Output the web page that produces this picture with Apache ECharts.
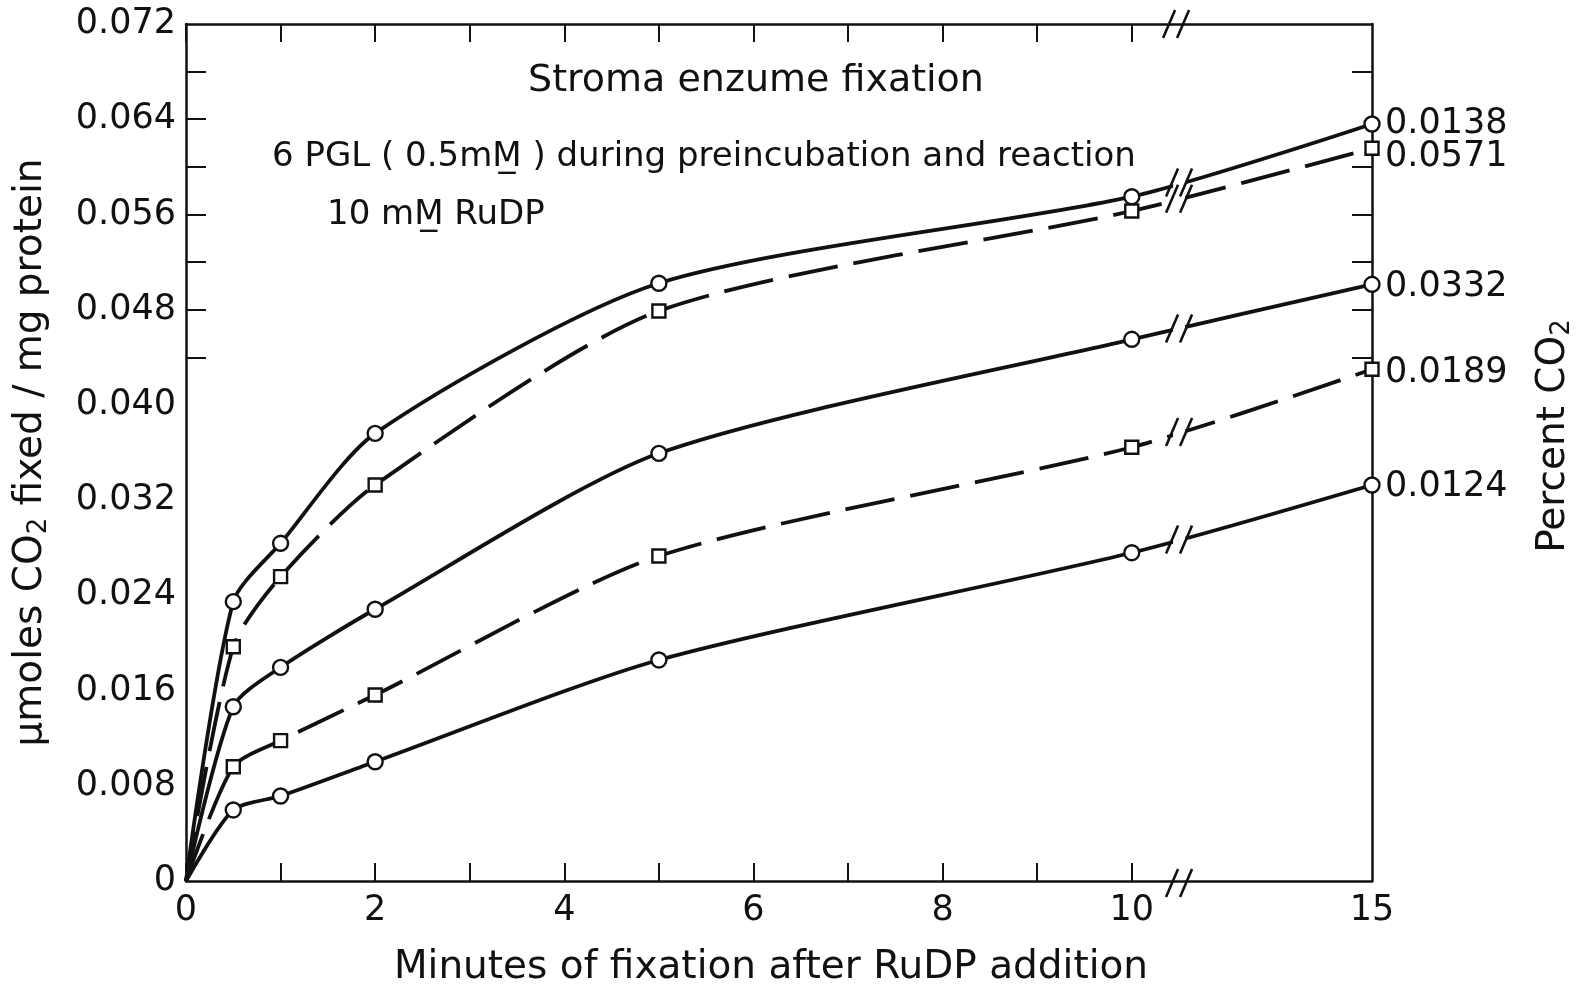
<!DOCTYPE html>
<html>
<head>
<meta charset="utf-8">
<title>Stroma enzume fixation</title>
<script src="https://cdn.jsdelivr.net/npm/echarts@6.0.0/dist/echarts.min.js"></script>
<style>
  html, body { margin: 0; padding: 0; background: #fff; }
  #chart { width: 1591px; height: 992px; }
</style>
</head>
<body>
<div id="chart"></div>
<script>
// minutes of fixation after RuDP addition
const minutes = [0, 0.5, 1, 2, 5, 10, 15]

// percent CO2 of each curve, and its marker
const co2Labels = ['0.0138', '0.0571', '0.0332', '0.0189', '0.0124']
const co2Symbols = ['circle', 'rect', 'circle', 'rect', 'circle']

// umoles CO2 fixed / mg protein
const fixed0138 = [0, 0.02347, 0.02837, 0.03761, 0.05022, 0.05749, 0.06360]
const fixed0571 = [0, 0.01968, 0.02557, 0.03327, 0.04789, 0.05629, 0.06156]
const fixed0332 = [0, 0.01464, 0.01795, 0.02283, 0.03593, 0.04551, 0.05013]
const fixed0189 = [0, 0.00960, 0.01179, 0.01563, 0.02730, 0.03644, 0.04299]
const fixed0124 = [0, 0.00597, 0.00714, 0.01002, 0.01857, 0.02758, 0.03327]

// tick labels
const xLabelValues = [0, 2, 4, 6, 8, 10, 15]
const xTickValues = [0, 1, 2, 3, 4, 5, 6, 7, 8, 9, 10]
const yLabelValues = [0, 0.008, 0.016, 0.024, 0.032, 0.040, 0.048, 0.056, 0.064, 0.072]
const yTickLeft = [0.044, 0.048, 0.052, 0.056, 0.060, 0.064, 0.068]
const yTickRight = [0.044, 0.048, 0.052, 0.056, 0.060, 0.068]

const INK = '#111'
const FONT = '"DejaVu Sans", sans-serif'

// the axis is broken after 10 min: 10 -> 15 is drawn shorter
const BREAK_AT = 10
const BREAK_SCALE = 0.508
const BREAK_MARK = 10.5
const pos = (m) => (m <= BREAK_AT ? m : BREAK_AT + (m - BREAK_AT) * BREAK_SCALE)
const X_MAX = pos(15)

const fixedSeries = [fixed0138, fixed0571, fixed0332, fixed0189, fixed0124]
const dashed = [false, true, false, true, false]
const endLabelDy = [0, 9, 3, 4, 2]

// text with a lowered, smaller "2"
const subRich = {
  t: { fontSize: 39, fontFamily: FONT, color: INK },
  s: { fontSize: 26, fontFamily: FONT, color: INK, padding: [16, 0, 0, 0] },
}

const chart = echarts.init(document.getElementById('chart'))

const baseX = {
  type: 'value',
  min: 0,
  max: X_MAX,
  splitLine: { show: false },
  axisLine: { show: true, onZero: false, lineStyle: { color: INK, width: 2.5 } },
  axisTick: {
    show: true,
    inside: true,
    length: 18,
    customValues: xTickValues.map(pos),
    lineStyle: { color: INK, width: 2 },
  },
}

const baseY = {
  type: 'value',
  min: 0,
  max: 0.072,
  splitLine: { show: false },
  axisLine: { show: true, onZero: false, lineStyle: { color: INK, width: 2.5 } },
}

const option = {
  backgroundColor: '#fff',
  animation: false,
  grid: { left: 186, right: 219, top: 24, bottom: 111, containLabel: false, outerBoundsMode: 'none' },
  xAxis: [
    {
      ...baseX,
      position: 'bottom',
      name: 'Minutes of fixation after RuDP addition',
      nameLocation: 'middle',
      nameGap: 67,
      nameTextStyle: { fontSize: 39, fontFamily: FONT, color: INK, padding: [0, 16, 0, 0] },
      axisLabel: {
        show: true,
        margin: 12,
        fontSize: 35,
        fontFamily: FONT,
        color: INK,
        showMinLabel: true,
        showMaxLabel: true,
        customValues: xLabelValues.map(pos),
        formatter: (v) => {
          const i = xLabelValues.findIndex((m) => Math.abs(pos(m) - v) < 1e-6)
          return i >= 0 ? String(xLabelValues[i]) : ''
        },
      },
    },
    {
      ...baseX,
      position: 'top',
      axisLabel: { show: false },
    },
  ],
  yAxis: [
    {
      ...baseY,
      position: 'left',
      name: '{t|μmoles CO}{s|2}{t| fixed / mg protein}',
      nameLocation: 'middle',
      nameGap: 134,
      nameTextStyle: { fontSize: 39, fontFamily: FONT, color: INK, rich: subRich },
      axisTick: {
        show: true,
        inside: true,
        length: 20,
        customValues: yTickLeft,
        lineStyle: { color: INK, width: 2 },
      },
      axisLabel: {
        show: true,
        margin: 10,
        fontSize: 35,
        fontFamily: FONT,
        color: INK,
        showMinLabel: true,
        showMaxLabel: true,
        customValues: yLabelValues,
        formatter: (v) => (v === 0 ? '0' : v.toFixed(3)),
      },
    },
    {
      ...baseY,
      position: 'right',
      axisTick: {
        show: true,
        inside: true,
        length: 20,
        customValues: yTickRight,
        lineStyle: { color: INK, width: 2 },
      },
      axisLabel: { show: false },
    },
  ],
  series: fixedSeries.map((vals, k) => ({
    name: co2Labels[k],
    type: 'line',
    xAxisIndex: 0,
    yAxisIndex: 0,
    smooth: 0.25,
    symbol: co2Symbols[k],
    symbolSize: co2Symbols[k] === 'rect' ? 13 : 15,
    showAllSymbol: true,
    data: minutes.map((m, i) =>
      i === 0 ? { value: [pos(m), vals[i]], symbol: 'none' } : [pos(m), vals[i]]
    ),
    lineStyle: { color: INK, width: 3.8, type: dashed[k] ? [50, 16] : 'solid', cap: 'butt' },
    itemStyle: { color: '#fff', borderColor: INK, borderWidth: 2.4 },
    endLabel: {
      show: true,
      formatter: '{a}',
      distance: 13,
      offset: [0, endLabelDy[k]],
      fontSize: 35,
      fontFamily: FONT,
      color: INK,
    },
    emphasis: { disabled: true },
    z: 3,
  })),
}

chart.setOption(option)

// "//" break marks on the two horizontal axes and on every curve
function breakMark(px, py, cut) {
  const els = []
  if (cut) {
    els.push({
      type: 'rect',
      shape: { x: px - 6, y: py - 10, width: 12, height: 20 },
      style: { fill: '#fff' },
      z: 100,
    })
  }
  ;[-7, 7].forEach((dx) => {
    els.push({
      type: 'line',
      shape: { x1: px + dx - 6, y1: py + 14, x2: px + dx + 6, y2: py - 14 },
      style: { stroke: INK, lineWidth: 2.6 },
      z: 101,
    })
  })
  return els
}

const marks = []
const i10 = minutes.indexOf(10)
const i15 = minutes.indexOf(15)
const t = (BREAK_MARK - pos(10)) / (pos(15) - pos(10))
fixedSeries.forEach((vals) => {
  const vb = vals[i10] + (vals[i15] - vals[i10]) * t
  const p = chart.convertToPixel({ xAxisIndex: 0, yAxisIndex: 0 }, [BREAK_MARK, vb])
  marks.push(...breakMark(p[0], p[1], true))
})
const pTop = chart.convertToPixel({ xAxisIndex: 0, yAxisIndex: 0 }, [BREAK_MARK, 0.072])
const pBottom = chart.convertToPixel({ xAxisIndex: 0, yAxisIndex: 0 }, [BREAK_MARK, 0])
marks.push(...breakMark(pTop[0] - 3, pTop[1], false))
marks.push(...breakMark(pBottom[0], pBottom[1] + 2, false))

// annotation texts
const texts = [
  { text: 'Stroma enzume fixation', x: 756, y: 81, size: 38, align: 'center' },
  { text: '6 PGL ( 0.5mM̲ ) during preincubation and reaction', x: 272, y: 157, size: 34, align: 'left' },
  { text: '10 mM̲ RuDP', x: 327, y: 215, size: 34, align: 'left' },
].map((d) => ({
  type: 'text',
  x: d.x,
  y: d.y,
  style: {
    text: d.text,
    fontSize: d.size,
    fontFamily: FONT,
    fill: INK,
    align: d.align,
    verticalAlign: 'middle',
  },
  z: 50,
}))

texts.push({
  type: 'text',
  x: 1554,
  y: 436,
  rotation: Math.PI / 2,
  style: {
    text: '{t|Percent CO}{s|2}',
    rich: subRich,
    fontSize: 39,
    fontFamily: FONT,
    fill: INK,
    align: 'center',
    verticalAlign: 'middle',
  },
  z: 50,
})

chart.setOption({ graphic: { elements: marks.concat(texts) } })

window.addEventListener('resize', () => chart.resize())
</script>
</body>
</html>
